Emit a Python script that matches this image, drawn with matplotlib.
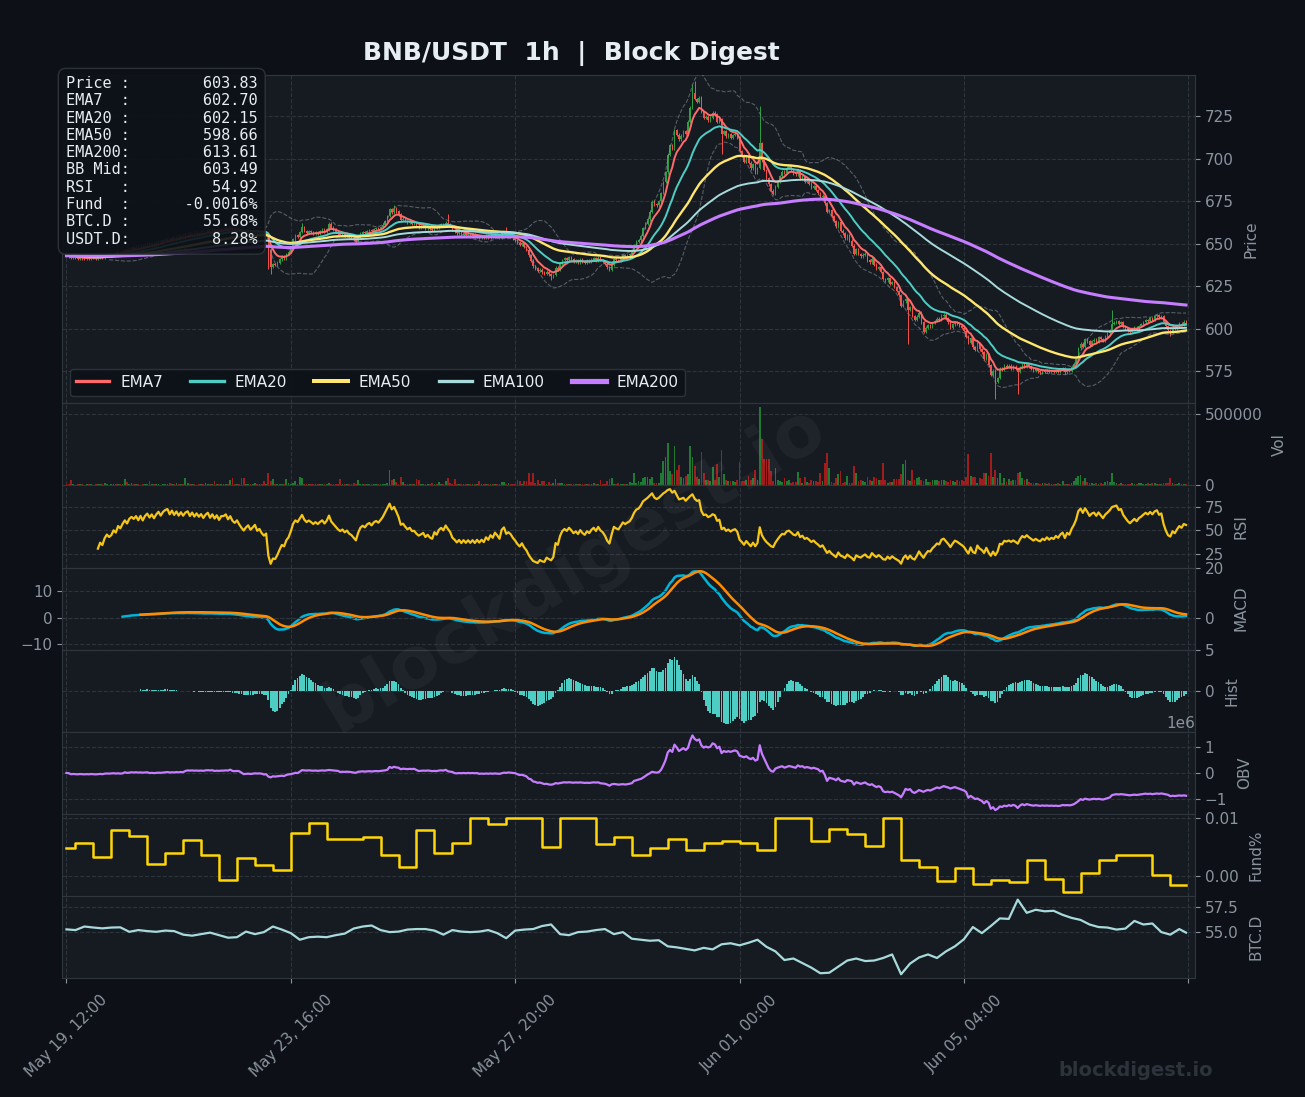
import numpy as np
import pandas as pd
import matplotlib
matplotlib.use('Agg')
import matplotlib.pyplot as plt
from matplotlib.ticker import FixedLocator, MultipleLocator

# ---------------- data ----------------
start_time = '2025-05-19 12:00'
first_open = 643.4

close = [
 643.0, 642.4, 641.8, 642.5, 641.9, 641.3, 642.0, 641.5, 641.0, 641.7, 641.3, 642.1, 641.6, 641.0, 641.8, 642.6, 642.0, 643.0, 643.6, 643.1,
 643.4, 644.2, 643.8, 645.0, 644.6, 645.5, 646.3, 645.8, 646.9, 647.4, 647.1, 647.8, 647.2, 648.3, 647.6, 648.8, 649.5, 648.9, 649.8, 649.2,
 650.3, 651.2, 650.6, 651.8, 652.5, 652.9, 652.1, 653.4, 652.7, 653.9, 653.2, 654.4, 653.8, 654.9, 655.4, 654.6, 655.8, 655.1, 656.2, 655.6,
 656.5, 655.8, 656.9, 657.6, 656.7, 657.9, 657.1, 658.2, 657.3, 658.6, 658.6, 659.2, 658.3, 659.3, 658.4, 658.0, 658.7, 657.9, 657.2, 656.6,
 657.3, 657.8, 656.9, 657.4, 658.0, 656.8, 657.2, 656.3, 655.7, 656.1, 646.5, 636.4, 638.2, 637.5, 638.9, 640.8, 642.6, 641.5, 644.0, 645.3,
 648.2, 652.6, 655.1, 654.3, 656.9, 659.8, 657.6, 656.4, 657.5, 656.8, 655.9, 657.0, 656.2, 657.4, 658.3, 657.1, 658.6, 661.8, 659.5, 658.4,
 657.2, 656.1, 655.3, 656.0, 654.8, 655.5, 654.2, 653.6, 652.4, 651.2, 653.8, 655.9, 656.8, 656.2, 657.5, 658.1, 657.3, 658.6, 659.2, 658.7,
 659.8, 661.2, 663.5, 666.4, 670.2, 668.5, 670.6, 669.1, 667.3, 664.2, 664.8, 663.5, 662.4, 663.1, 661.7, 661.8, 660.6, 659.8, 660.2, 660.7,
 659.1, 659.8, 658.7, 658.2, 660.2, 659.3, 660.9, 661.6, 660.8, 662.5, 661.4, 660.4, 658.2, 657.3, 656.1, 656.8, 655.4, 656.2, 655.0, 655.7,
 654.6, 655.3, 654.1, 654.9, 653.8, 654.5, 653.6, 654.8, 653.9, 655.1, 654.2, 655.6, 654.7, 653.5, 656.2, 657.0, 654.8, 655.3, 654.6, 653.2,
 652.1, 650.6, 649.4, 650.2, 648.1, 646.5, 643.2, 640.1, 636.8, 635.5, 634.0, 634.8, 633.2, 632.5, 633.6, 632.1, 630.8, 631.6, 635.9, 634.8,
 638.2, 640.5, 641.5, 640.6, 642.1, 641.0, 639.6, 640.4, 639.2, 640.8, 639.5, 638.7, 640.1, 639.3, 640.6, 641.4, 640.2, 641.8, 640.5, 639.8,
 638.4, 636.1, 634.6, 637.8, 641.2, 640.5, 640.1, 641.6, 643.4, 642.8, 643.5, 644.1, 645.8, 648.9, 651.2, 652.0, 654.6, 659.3, 661.8, 664.5,
 668.9, 674.8, 673.2, 672.6, 674.9, 679.8, 686.4, 692.0, 702.5, 708.1, 706.2, 716.9, 714.2, 711.4, 713.6, 716.3, 714.5, 721.8, 730.1, 738.4,
 735.2, 733.6, 736.0, 727.5, 723.9, 724.8, 722.6, 724.1, 727.0, 726.2, 721.8, 723.2, 714.6, 716.2, 713.1, 714.4, 712.5, 713.9, 714.6, 712.4,
 704.5, 701.8, 698.2, 700.9, 697.6, 694.3, 696.8, 692.1, 694.5, 709.2, 699.1, 693.4, 688.6, 684.9, 681.2, 679.4, 683.6, 686.8, 689.9, 692.4,
 691.8, 694.8, 695.6, 693.7, 691.5, 690.8, 693.4, 688.5, 689.6, 686.4, 687.1, 685.3, 683.0, 683.9, 681.6, 679.8, 677.4, 678.2, 673.9, 668.8,
 669.9, 666.1, 663.4, 660.2, 662.6, 657.7, 656.1, 653.2, 655.0, 651.8, 649.0, 644.2, 646.8, 644.1, 642.7, 643.6, 644.2, 640.3, 639.1, 641.2,
 637.8, 635.3, 636.2, 633.5, 629.4, 628.6, 629.9, 626.4, 627.5, 624.6, 622.3, 619.8, 613.6, 616.2, 617.4, 611.2, 612.9, 607.6, 605.2, 607.1,
 609.5, 603.8, 598.4, 600.6, 602.3, 601.5, 603.4, 604.6, 606.1, 605.2, 607.8, 608.4, 606.3, 603.9, 600.8, 602.6, 604.1, 603.2, 601.8, 600.5,
 598.9, 595.4, 591.8, 594.6, 589.2, 587.6, 591.5, 588.0, 586.3, 582.4, 585.1, 578.6, 572.9, 575.4, 568.9, 571.2, 576.6, 575.9, 578.4, 577.6,
 578.3, 576.9, 577.8, 576.4, 574.7, 577.2, 579.1, 578.0, 579.3, 577.8, 576.6, 575.4, 576.2, 575.1, 574.5, 575.6, 574.8, 575.9, 574.6, 575.3,
 574.7, 575.8, 574.9, 576.1, 576.8, 574.4, 576.3, 575.5, 577.8, 579.6, 582.4, 588.7, 591.2, 589.5, 594.1, 592.6, 590.8, 592.9, 593.7, 592.4,
 595.2, 594.0, 592.8, 595.6, 597.3, 599.4, 602.8, 603.6, 604.5, 602.9, 603.8, 601.6, 600.4, 599.1, 598.2, 599.5, 600.8, 599.9, 601.7, 602.6,
 603.9, 605.1, 604.6, 606.2, 605.5, 607.3, 608.1, 606.8, 607.6, 604.2, 601.5, 599.3, 598.6, 600.8, 599.9, 601.6, 603.1, 602.4, 604.2, 603.83,
]

volume_k = [
 10, 8, 40, 9, 6, 7, 12, 8, 5, 9, 7, 11, 6, 8, 10, 7, 9, 19, 8, 6,
 9, 7, 12, 8, 10, 7, 42, 22, 9, 14, 8, 7, 10, 6, 9, 8, 7, 30, 8, 10,
 7, 9, 6, 11, 8, 10, 16, 8, 7, 15, 9, 12, 8, 49, 20, 8, 7, 10, 6, 9,
 8, 11, 18, 7, 9, 8, 30, 12, 7, 9, 8, 10, 7, 35, 50, 8, 9, 12, 55, 55,
 9, 7, 10, 8, 16, 9, 7, 11, 30, 8, 91, 30, 42, 10, 13, 9, 8, 12, 45, 20,
 10, 20, 30, 12, 60, 55, 9, 8, 10, 7, 9, 8, 12, 7, 10, 9, 11, 14, 8, 9,
 10, 8, 42, 9, 7, 10, 8, 9, 18, 8, 40, 9, 7, 10, 8, 9, 12, 8, 10, 9,
 12, 13, 9, 20, 110, 35, 42, 25, 10, 60, 22, 9, 8, 10, 7, 9, 45, 40, 8, 9,
 7, 10, 8, 16, 9, 8, 22, 8, 10, 30, 55, 18, 9, 45, 8, 10, 7, 9, 8, 10,
 9, 7, 10, 8, 30, 9, 7, 10, 8, 9, 8, 10, 9, 7, 22, 24, 8, 16, 9, 10,
 9, 40, 30, 10, 30, 30, 90, 24, 85, 16, 35, 12, 30, 30, 10, 25, 9, 18, 42, 14,
 18, 16, 12, 9, 10, 8, 9, 11, 8, 10, 9, 12, 8, 9, 10, 14, 9, 8, 35, 10,
 9, 30, 45, 54, 12, 9, 16, 10, 8, 12, 10, 22, 18, 90, 20, 30, 24, 50, 60, 60,
 45, 60, 20, 15, 18, 90, 170, 200, 300, 100, 80, 280, 106, 141, 60, 50, 70, 80, 280, 200,
 134, 62, 45, 232, 85, 40, 35, 30, 130, 40, 150, 60, 246, 80, 35, 30, 28, 32, 24, 40,
 162, 30, 32, 40, 70, 40, 50, 106, 38, 550, 330, 185, 185, 185, 100, 30, 120, 35, 30, 25,
 55, 28, 35, 20, 25, 22, 92, 50, 20, 60, 25, 20, 35, 28, 30, 25, 90, 30, 160, 230,
 120, 25, 20, 50, 80, 99, 20, 25, 70, 20, 20, 134, 90, 28, 35, 30, 25, 60, 35, 28,
 60, 50, 35, 40, 155, 35, 20, 25, 22, 45, 45, 45, 80, 148, 176, 40, 30, 106, 40, 50,
 60, 35, 32, 45, 25, 22, 40, 40, 40, 28, 40, 40, 30, 24, 40, 30, 25, 35, 28, 35,
 30, 60, 220, 70, 60, 60, 20, 50, 45, 90, 90, 70, 230, 60, 110, 50, 90, 20, 50, 25,
 45, 30, 40, 35, 85, 95, 50, 40, 45, 25, 20, 15, 18, 15, 12, 18, 15, 12, 14, 10,
 12, 10, 14, 11, 28, 12, 10, 13, 15, 30, 55, 65, 75, 30, 50, 22, 15, 18, 12, 14,
 12, 15, 11, 25, 28, 26, 90, 22, 15, 12, 14, 10, 12, 11, 13, 15, 10, 12, 14, 16,
 12, 10, 15, 13, 18, 14, 11, 12, 13, 15, 20, 16, 54, 18, 12, 10, 14, 11, 12, 13,
]

base_wick = 0.8
high_override = {90: 657.0, 105: 662.5, 146: 673.0, 170: 667.5, 196: 660.0,
                 279: 744.0, 280: 745.5, 309: 731.0, 466: 611.0}
low_override = {90: 635.0, 91: 632.5, 216: 628.5, 292: 703.0, 375: 591.0,
                414: 559.0, 424: 562.0, 492: 596.0}

fund_lengths = [4] + [8] * 62
fund_8h = [
 0.0048, 0.0056, 0.0033, 0.0079, 0.0069, 0.0020, 0.0040, 0.0062, 0.0036, -0.0008,
 0.0030, 0.0019, 0.0010, 0.0074, 0.0090, 0.0063, 0.0063, 0.0066, 0.0036, 0.0015,
 0.0079, 0.0039, 0.0057, 0.0100, 0.0089, 0.0099, 0.0100, 0.0049, 0.0100, 0.0100,
 0.0055, 0.0067, 0.0035, 0.0047, 0.0063, 0.0044, 0.0057, 0.0060, 0.0057, 0.0044,
 0.0100, 0.0100, 0.0060, 0.0081, 0.0071, 0.0051, 0.0100, 0.0028, 0.0016, -0.0009,
 0.0014, -0.0014, -0.0008, -0.0011, 0.0028, -0.0005, -0.0028, 0.0005, 0.0028, 0.0035,
 0.0035, 0.0002, -0.0015,
]

btc_idx = list(range(0, 500, 4)) + [499]
btc_d = [
 55.27, 55.20, 55.55, 55.45, 55.37, 55.45, 55.47, 55.03, 55.20, 55.10,
 55.03, 55.15, 55.10, 54.75, 54.65, 54.80, 54.95, 54.70, 54.45, 54.50,
 55.05, 54.80, 55.00, 55.55, 55.25, 54.90, 54.25, 54.50, 54.55, 54.50,
 54.70, 54.85, 55.35, 55.55, 55.65, 55.20, 55.00, 55.05, 55.25, 55.30,
 55.30, 55.15, 54.75, 55.20, 55.05, 55.00, 55.05, 55.20, 54.90, 54.40,
 55.15, 55.25, 55.30, 55.60, 55.75, 54.80, 54.70, 55.00, 55.05, 55.20,
 55.30, 54.80, 55.00, 54.35, 54.25, 54.15, 54.20, 53.60, 53.50, 53.35,
 53.20, 53.45, 53.30, 53.80, 53.90, 53.70, 53.95, 54.25, 53.55, 53.10,
 52.25, 52.40, 51.95, 51.50, 50.95, 51.00, 51.60, 52.20, 52.40, 52.15,
 52.20, 52.45, 52.80, 50.85, 51.90, 52.50, 52.80, 52.45, 53.10, 53.60,
 54.30, 55.50, 54.90, 55.60, 56.35, 56.30, 58.20, 56.90, 57.20, 57.05,
 57.10, 56.70, 56.40, 56.20, 55.75, 55.50, 55.45, 55.25, 55.35, 56.10,
 55.75, 55.85, 55.00, 54.75, 55.30, 54.95,
]

info_labels = ['Price', 'EMA7', 'EMA20', 'EMA50', 'EMA200', 'BB Mid', 'RSI', 'Fund', 'BTC.D', 'USDT.D']
info_values = ['603.83', '602.70', '602.15', '598.66', '613.61', '603.49', '54.92', '-0.0016%', '55.68%', '8.28%']

ema_periods = [7, 20, 50, 100, 200]
ema_colors = ['#ff6b6b', '#4ecdc4', '#ffe66d', '#a8dadc', '#c77dff']
ema_widths = [1.4, 1.4, 1.7, 1.4, 2.2]
tick_idx = [0, 100, 200, 300, 400, 500]

# ---------------- derived ----------------
c = np.array(close, dtype=float)
n = len(c)
x = np.arange(n)
o = np.r_[first_open, c[:-1]]
h = np.maximum(o, c) + base_wick
l = np.minimum(o, c) - base_wick
for k, v in high_override.items():
    h[k] = v
for k, v in low_override.items():
    l[k] = v
vol = np.array(volume_k, dtype=float) * 1000
up = c >= o
s = pd.Series(c)

emas = [s.ewm(span=p, adjust=False).mean() for p in ema_periods]
bb_mid = s.rolling(20).mean()
bb_sd = s.rolling(20).std()
bb_up = bb_mid + 2 * bb_sd
bb_lo = bb_mid - 2 * bb_sd

delta = s.diff()
gain = delta.clip(lower=0)
loss = -delta.clip(upper=0)
ag = gain.ewm(alpha=1/14, adjust=False, min_periods=14).mean()
al = loss.ewm(alpha=1/14, adjust=False, min_periods=14).mean()
rsi = 100 - 100 / (1 + ag / al)

e12 = s.ewm(span=12, adjust=False, min_periods=12).mean()
e26 = s.ewm(span=26, adjust=False, min_periods=26).mean()
macd = e12 - e26
signal = macd.ewm(span=9, adjust=False, min_periods=9).mean()
hist = macd - signal

obv = np.cumsum(np.where(c > o, vol, np.where(c < o, -vol, 0.0)))
obv = obv - obv[0]

fund = np.repeat(fund_8h, fund_lengths)
dates = pd.date_range(start=start_time, periods=n, freq='h')

# ---------------- style ----------------
FIG_BG = '#0d1117'
AX_BG = '#161b22'
GRID = '#30363d'
TXT = '#8b949e'
GREEN = '#2ea043'
RED = '#f85149'

fig = plt.figure(figsize=(13.05, 10.97), dpi=100, facecolor=FIG_BG)
gs = fig.add_gridspec(8, 1, height_ratios=[4, 1, 1, 1, 1, 1, 1, 1],
                      left=0.0475, right=0.9157, top=0.9316, bottom=0.1085, hspace=0)
axes = []
for i in range(8):
    if i == 0:
        a = fig.add_subplot(gs[i])
    else:
        a = fig.add_subplot(gs[i], sharex=axes[0])
    axes.append(a)

ax_p, ax_v, ax_r, ax_m, ax_h, ax_o, ax_f, ax_b = axes
ax_s = ax_m.twinx()

labels = ['Price', 'Vol', 'RSI', 'MACD', 'Hist', 'OBV', 'Fund%', 'BTC.D']
for a, lab in zip(axes, labels):
    a.set_facecolor(AX_BG)
    for sp in a.spines.values():
        sp.set_color(GRID)
    a.yaxis.tick_right()
    a.yaxis.set_label_position('right')
    a.set_ylabel(lab, color=TXT, fontsize=11, labelpad=7)
    a.tick_params(colors=TXT, labelsize=11)
    a.grid(True, color=GRID, linestyle='--', linewidth=0.8, alpha=0.9)
    a.set_axisbelow(True)
    a.yaxis.get_offset_text().set_color(TXT)
    a.yaxis.get_offset_text().set_fontsize(11)

# price
cols = np.where(up, GREEN, RED)
ax_p.vlines(x, l, h, colors=cols, linewidth=0.7, zorder=2)
ax_p.bar(x, np.maximum(np.abs(c - o), 0.2), bottom=np.minimum(o, c), width=0.65,
         color=cols, zorder=2)
ax_p.plot(x, bb_up, color=TXT, linestyle='--', linewidth=0.8, alpha=0.55, zorder=3)
ax_p.plot(x, bb_lo, color=TXT, linestyle='--', linewidth=0.8, alpha=0.55, zorder=3)
lines = []
for p, e, col, lw in zip(ema_periods, emas, ema_colors, ema_widths):
    ln, = ax_p.plot(x, e, color=col, linewidth=lw, label=f'EMA{p}', zorder=4)
    lines.append(ln)
ax_p.set_ylim(l.min() * 0.995, h.max() * 1.005)
ax_p.yaxis.set_major_locator(MultipleLocator(25))
leg = ax_p.legend(handles=lines, loc='lower left', ncol=5, fontsize=11,
                  facecolor=FIG_BG, edgecolor=GRID, labelcolor='#e6edf3',
                  framealpha=0.9, handlelength=2.2, handletextpad=0.7, columnspacing=1.8)
for lh, lw in zip(leg.get_lines(), ema_widths):
    lh.set_linewidth(lw * 1.7)
info = '\n'.join(f'{lab:<6}:{val:>14}' for lab, val in zip(info_labels, info_values))
ax_p.text(0.0035, 0.997, info, transform=ax_p.transAxes, va='top', ha='left',
          family='DejaVu Sans Mono', fontsize=11, color='#e6edf3', linespacing=1.19,
          bbox=dict(boxstyle='round,pad=0.5', facecolor=FIG_BG, edgecolor=GRID, alpha=0.9),
          zorder=10, clip_on=False)

# volume
vcols = np.where(up, '#1f7a33', '#a11d1d')
ax_v.bar(x, vol, width=0.8, color=vcols)
ax_v.yaxis.set_major_locator(FixedLocator([0, 500000]))

# rsi
ax_r.plot(x, rsi, color='#f5c518', linewidth=1.6)
ax_r.yaxis.set_major_locator(FixedLocator([25, 50, 75]))

# macd (line on right scale, signal on its own left scale)
ax_m.plot(x, macd, color='#00b4d8', linewidth=1.8)
ax_m.yaxis.tick_right()
ax_m.yaxis.set_label_position('right')
ax_m.yaxis.set_major_locator(FixedLocator([0, 20]))
ax_s.plot(x, signal, color='#ff8c00', linewidth=1.8)
ax_s.yaxis.tick_left()
ax_s.yaxis.set_major_locator(FixedLocator([-10, 0, 10]))
ax_s.tick_params(colors=TXT, labelsize=11)
ax_s.grid(True, color=GRID, linestyle='--', linewidth=0.8, alpha=0.9)
for sp in ax_s.spines.values():
    sp.set_color(GRID)

# hist
ax_h.bar(x, hist, width=0.8, color='#4ecdc4')
ax_h.set_ylim(-4.9, 5.1)
ax_h.yaxis.set_major_locator(FixedLocator([0, 5]))

# obv
ax_o.plot(x, obv, color='#c77dff', linewidth=1.6)
ax_o.yaxis.set_major_locator(FixedLocator([-1e6, 0, 1e6]))

# funding
ax_f.plot(x, fund, color='#ffd60a', linewidth=1.8, drawstyle='steps-post')
ax_f.yaxis.set_major_locator(FixedLocator([0.0, 0.01]))

# btc dominance
ax_b.plot(btc_idx, btc_d, color='#a8dadc', linewidth=1.6)
ax_b.yaxis.set_major_locator(FixedLocator([55.0, 57.5]))

# x axis
ax_b.set_xlim(-2, 503)
ax_b.xaxis.set_major_locator(FixedLocator(tick_idx))
ax_b.set_xticklabels([dates[i].strftime('%b %d, %H:%M') if i < n else '' for i in tick_idx],
                     rotation=45, color=TXT, fontsize=11)
ax_b.tick_params(axis='x', pad=7)
for a in axes[:-1]:
    a.tick_params(axis='x', length=0, labelbottom=False)
ax_s.tick_params(axis='x', length=0, labelbottom=False)

fig.text(0.438, 0.951, 'BNB/USDT  1h  |  Block Digest', fontsize=18, fontweight='bold',
         color='#e6edf3', ha='center', va='center')
fig.text(0.44, 0.482, 'blockdigest.io', rotation=31, fontsize=52, fontweight='bold',
         color='white', alpha=0.045, ha='center', va='center')
fig.text(0.870, 0.0246, 'blockdigest.io', fontsize=14, fontweight='bold',
         color='#2d333b', ha='center', va='center')

fig.savefig('out.png', dpi=100, facecolor=FIG_BG)
